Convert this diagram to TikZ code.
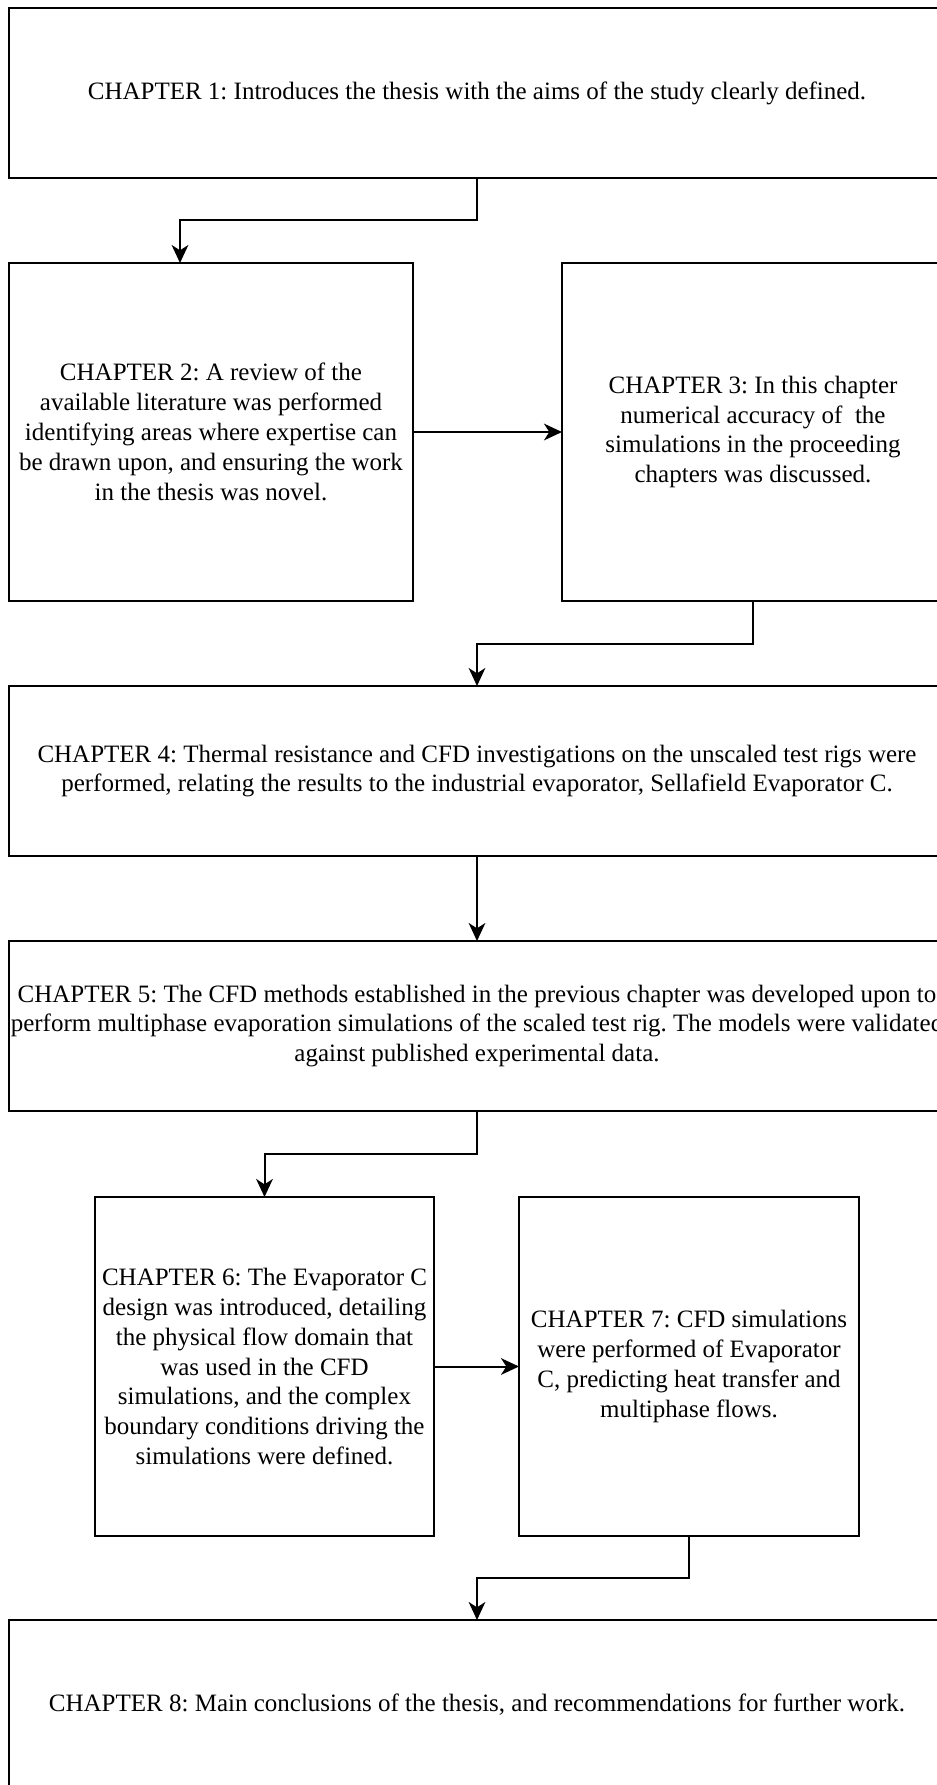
\documentclass[tikz,border=0pt]{standalone}
\usepackage{fontspec}
\setmainfont{Liberation Serif}
\usetikzlibrary{arrows.meta}
\begin{document}
\frenchspacing
\begin{tikzpicture}[x=0.75pt,y=-0.75pt,
  chbox/.style={draw=black, line width=1.5pt, rectangle, inner sep=0pt, outer sep=0pt,
    align=center, font=\fontsize{18.75pt}{22.4pt}\selectfont},
  conn/.style={line width=1.5pt, -{Stealth[length=13.5pt,width=12.5pt,inset=4pt]}}]
\useasboundingbox (0,0) rectangle (936,1785);

\node[chbox, minimum width=702pt, minimum height=127.5pt] (b1) at (477,93)
  {CHAPTER 1: Introduces the thesis with the aims of the study clearly defined.};
\node[chbox, minimum width=303pt, minimum height=253.5pt] (b2) at (211,432)
  {CHAPTER 2: A review of the\\available literature was performed\\identifying areas where expertise can\\be drawn upon, and ensuring the work\\in the thesis was novel.};
\node[chbox, minimum width=286.5pt, minimum height=253.5pt] (b3) at (753,432)
  {CHAPTER 3: In this chapter\\numerical accuracy of \ the\\simulations in the proceeding\\chapters was discussed.};
\node[chbox, minimum width=702pt, minimum height=127.5pt] (b4) at (477,771)
  {CHAPTER 4: Thermal resistance and CFD investigations on the unscaled test rigs were\\performed, relating the results to the industrial evaporator, Sellafield Evaporator C.};
\node[chbox, minimum width=702pt, minimum height=127.5pt] (b5) at (477,1026)
  {CHAPTER 5: The CFD methods established in the previous chapter was developed upon to\\perform multiphase evaporation simulations of the scaled test rig. The models were validated\\against published experimental data.};
\node[chbox, minimum width=254.25pt, minimum height=254.25pt] (b6) at (264.5,1366.5)
  {CHAPTER 6: The Evaporator C\\design was introduced, detailing\\the physical flow domain that\\was used in the CFD\\simulations, and the complex\\boundary conditions driving the\\simulations were defined.};
\node[chbox, minimum width=255pt, minimum height=254.25pt] (b7) at (689,1366.5)
  {CHAPTER 7: CFD simulations\\were performed of Evaporator\\C, predicting heat transfer and\\multiphase flows.};
\node[chbox, minimum width=702pt, minimum height=127.5pt] (b8) at (477,1705)
  {CHAPTER 8: Main conclusions of the thesis, and recommendations for further work.};

\draw[conn] (b1.south) -- ++(0,42) -| ([xshift=-23.25pt]b2.north);
\draw[conn] (b2.east) -- (b3.west);
\draw[conn] (b3.south) -- ++(0,43) -| (b4.north);
\draw[conn] (b4.south) -- (b5.north);
\draw[conn] (b5.south) -- ++(0,43) -| (b6.north);
\draw[conn] (b6.east) -- (b7.west);
\draw[conn] (b7.south) -- ++(0,42) -| (b8.north);
\end{tikzpicture}
\end{document}
